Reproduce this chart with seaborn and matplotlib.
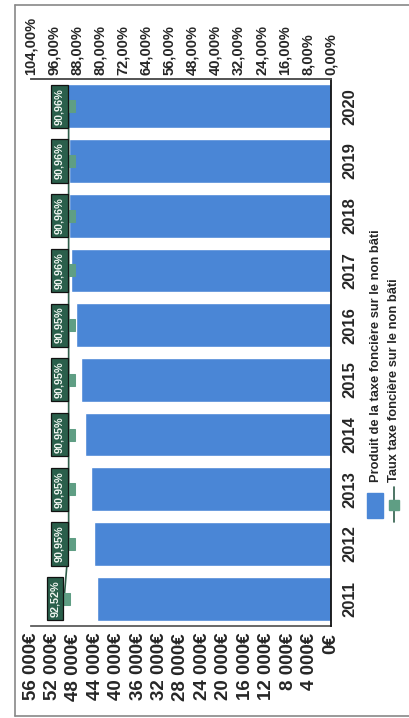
import matplotlib
matplotlib.use("Agg")
import matplotlib.pyplot as plt
from matplotlib.lines import Line2D
from matplotlib.patches import Rectangle
import seaborn as sns
import pandas as pd

# Produit et taux de la taxe foncière sur le non bâti, 2011-2020
years = ["2011", "2012", "2013", "2014", "2015", "2016", "2017", "2018", "2019", "2020"]
produit = [43700, 44200, 44800, 46000, 46700, 47600, 48500, 48900, 48900, 49300]
taux = [92.52, 90.95, 90.95, 90.95, 90.95, 90.95, 90.96, 90.96, 90.96, 90.96]
taux_labels = ["92,52%", "90,95%", "90,95%", "90,95%", "90,95%", "90,95%",
               "90,96%", "90,96%", "90,96%", "90,96%"]
euro_ticks = list(range(0, 56001, 4000))
pct_ticks = list(range(0, 105, 8))

BAR = "#4a86d6"
MARK = "#5f9e84"
LINE = "#2f5e4a"

sns.set_theme(style="white")
plt.rcParams["font.family"] = ["Liberation Sans", "DejaVu Sans"]
plt.rcParams["font.weight"] = "bold"

W, H = 410, 718
fig = plt.figure(figsize=(W / 100, H / 100), dpi=100)


def fx(px):
    return px / W


def fy(py):
    return 1 - py / H


ax = fig.add_axes([fx(31), fy(626), fx(300), (626 - 79) / H])

df = pd.DataFrame({"annee": years, "produit": produit, "taux": taux})
order = years[::-1]  # 2020 at the top, 2011 at the bottom
sns.barplot(data=df, x="produit", y="annee", order=order, orient="h",
            color=BAR, saturation=1, width=0.8, ax=ax)
ax.set_xlim(56000, 0)
ax.set_xticks(euro_ticks)
ax.set_xticklabels([("0€" if v == 0 else f"{v // 1000} 000€") for v in euro_ticks])
for lab in ax.get_xticklabels():
    lab.set_rotation(90)
    lab.set_fontsize(13.5)
    lab.set_fontweight("bold")
ax.set_xlabel("")
ax.set_ylabel("")
ax.yaxis.tick_right()
ax.tick_params(axis="y", length=0, pad=8)
ax.tick_params(axis="x", length=0, pad=5)
for lab in ax.get_yticklabels():
    lab.set_rotation(90)
    lab.set_va("center")
    lab.set_fontsize(12)
    lab.set_fontweight("bold")

ax.spines["left"].set_visible(False)
ax.spines["right"].set_color("#111111")
ax.spines["right"].set_linewidth(1.3)
ax.spines["right"].set_zorder(5)
ax.spines["bottom"].set_color("#555555")
ax.spines["top"].set_color("#555555")

# Taux on the secondary (percentage) axis
ax2 = ax.twiny()
pos = [order.index(y) for y in years]
sns.lineplot(x=taux, y=pos, ax=ax2, orient="y", sort=False, color=LINE,
             linewidth=1.2, marker="s", markersize=8, markerfacecolor=MARK,
             markeredgecolor=MARK)
ax2.set_xlim(104, 0)
ax.set_ylim(len(years) - 0.5, -0.5)
ax2.set_xticks(pct_ticks)
ax2.set_xticklabels([f"{v},00%" for v in pct_ticks])
for lab in ax2.get_xticklabels():
    lab.set_rotation(90)
    lab.set_fontsize(10.5)
    lab.set_fontweight("bold")
ax2.tick_params(axis="x", length=0, pad=3)
ax2.set_xlabel("")
ax2.set_ylabel("")
for side in ["left", "right", "bottom"]:
    ax2.spines[side].set_visible(False)
ax2.spines["top"].set_color("#555555")

for t, p, lab in zip(taux, pos, taux_labels):
    ax2.annotate(lab, (t, p), xytext=(-3, 0), textcoords="offset points",
                 ha="right", va="center", rotation=90, fontsize=7.8,
                 fontweight="bold", color="#eef4ef",
                 bbox=dict(boxstyle="square,pad=0.3", fc="#2a5f4b",
                           ec="#111111", lw=0.9))

# Legend, written sideways on the right
fig.add_artist(Rectangle((fx(367), fy(518)), fx(16), 25 / H,
                         transform=fig.transFigure, color=BAR))
fig.text(fx(376), fy(482), "Produit de la taxe foncière sur le non bâti",
         rotation=90, ha="center", va="bottom", fontsize=9.3, fontweight="bold")
fig.add_artist(Line2D([fx(394), fx(394)], [fy(522), fy(487)],
                      transform=fig.transFigure, color=LINE, lw=1.2))
fig.add_artist(Line2D([fx(394)], [fy(505)], transform=fig.transFigure,
                      marker="s", markersize=7, color=MARK, lw=0))
fig.text(fx(394), fy(482), "Taux taxe foncière sur le non bâti",
         rotation=90, ha="center", va="bottom", fontsize=9.3, fontweight="bold")

# Outer frame
for xs, ys in [([fx(15), fx(15)], [fy(5), fy(716)]),
               ([fx(15), 1.0], [fy(5), fy(5)]),
               ([fx(15), 1.0], [fy(716), fy(716)])]:
    fig.add_artist(Line2D(xs, ys, transform=fig.transFigure,
                          color="#888888", lw=1.2))

fig.savefig("out.png", dpi=100)
